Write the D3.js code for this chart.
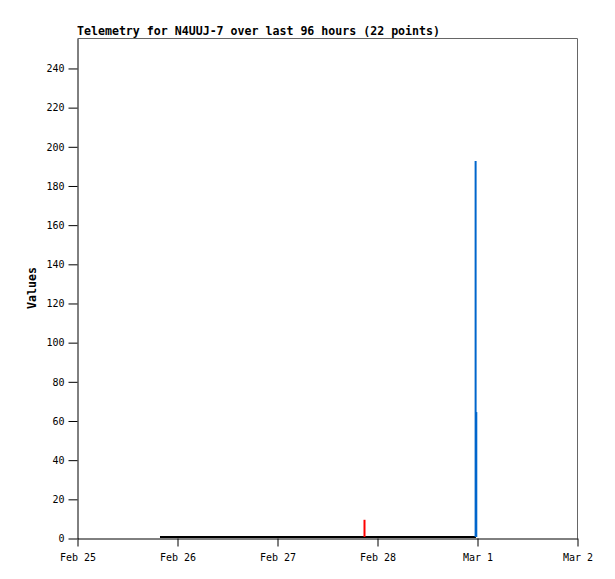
<!DOCTYPE html>
<html>
<head>
<meta charset="utf-8">
<script src="https://cdn.jsdelivr.net/npm/d3@7"></script>
<style>
  body { margin: 0; background: #fff; }
  text { font-family: "DejaVu Sans Mono", monospace; }
</style>
</head>
<body>
<script>
/* data */
const titleText = "Telemetry for N4UUJ-7 over last 96 hours (22 points)";
const yTicks = [0, 20, 40, 60, 80, 100, 120, 140, 160, 180, 200, 220, 240];
const xTicks = ["2023-02-25T00:00", "2023-02-26T00:00", "2023-02-27T00:00",
                "2023-02-28T00:00", "2023-03-01T00:00", "2023-03-02T00:00"];
const xTickLabels = ["Feb 25", "Feb 26", "Feb 27", "Feb 28", "Mar 1", "Mar 2"];

// black series (flat near zero)
const blackTimes = ["2023-02-25T19:55", "2023-02-26T01:10", "2023-02-26T06:30", "2023-02-26T11:50",
  "2023-02-26T17:10", "2023-02-26T22:30", "2023-02-27T03:50", "2023-02-27T09:10",
  "2023-02-27T14:30", "2023-02-27T19:50", "2023-02-28T01:10", "2023-02-28T06:30",
  "2023-02-28T11:50", "2023-02-28T17:10", "2023-02-28T21:00", "2023-02-28T23:10",
  "2023-02-28T23:45"];
const blackValues = [0.5, 0.5, 0.5, 0.5, 0.5, 0.5, 0.5, 0.5, 0.5, 0.5, 0.5, 0.5, 0.5, 0.5, 0.5, 0.5, 0.5];
// red series (spike)
const redTimes = ["2023-02-27T21:00"];
const redValues = [9.3];
// blue series (spikes)
const blueTimes = ["2023-02-28T23:40", "2023-02-28T23:50"];
const blueValues = [192.5, 64.3];

/* layout */
const width = 615, height = 579;
const mLeft = 77, mRight = 577, mTop = 38, mBottom = 538;

const parse = d3.timeParse("%Y-%m-%dT%H:%M");

const svg = d3.select("body").append("svg")
  .attr("width", width)
  .attr("height", height);

const x = d3.scaleTime()
  .domain([parse(xTicks[0]), parse(xTicks[xTicks.length - 1])])
  .range([mLeft, mRight]);
const y = d3.scaleLinear()
  .domain([0, 255.3])
  .range([mBottom, mTop]);

// frame (top & right, gray)
svg.append("path")
  .attr("d", `M${mLeft + 0.5},${mTop + 0.5}H${mRight + 0.5}V${mBottom + 0.5}`)
  .attr("fill", "none")
  .attr("stroke", "#666")
  .attr("stroke-width", 1);

/* axes */
const axisY = d3.axisLeft(y)
  .tickValues(yTicks)
  .tickSize(9)
  .tickPadding(4)
  .tickSizeOuter(0);
svg.append("g")
  .attr("transform", `translate(${mLeft + 0.5},0.5)`)
  .call(axisY);

const axisX = d3.axisBottom(x)
  .tickValues(xTicks.map(parse))
  .tickFormat((d, i) => xTickLabels[i])
  .tickSize(8)
  .tickPadding(7)
  .tickSizeOuter(0);
svg.append("g")
  .attr("transform", `translate(0.5,${mBottom + 0.5})`)
  .call(axisX);

svg.selectAll(".tick text")
  .attr("font-family", "DejaVu Sans Mono, monospace")
  .attr("font-size", "10px")
  .attr("fill", "#000");
svg.selectAll(".domain, .tick line").attr("stroke", "#000");

// black line
const blackData = blackTimes.map((t, i) => [parse(t), blackValues[i]]);
svg.append("path")
  .datum(blackData)
  .attr("fill", "none")
  .attr("stroke", "#000")
  .attr("stroke-width", 2)
  .attr("d", d3.line().x(d => x(d[0])).y(d => y(d[1])));

// impulses
function impulses(times, values, color) {
  svg.append("g").selectAll("line")
    .data(times.map((t, i) => [parse(t), values[i]]))
    .join("line")
    .attr("x1", d => x(d[0]))
    .attr("x2", d => x(d[0]))
    .attr("y1", y(0) - 1)
    .attr("y2", d => y(d[1]))
    .attr("stroke", color)
    .attr("stroke-width", 2);
}
impulses(redTimes, redValues, "#ff0000");
impulses(blueTimes, blueValues, "#0066cc");

/* titles */
svg.append("text")
  .attr("x", mLeft)
  .attr("y", 35)
  .attr("font-size", "11.6px")
  .attr("font-weight", "bold")
  .attr("textLength", 363)
  .text(titleText);

svg.append("text")
  .attr("transform", `translate(36,${(mTop + mBottom) / 2}) rotate(-90)`)
  .attr("text-anchor", "middle")
  .attr("font-size", "11.6px")
  .attr("font-weight", "bold")
  .text("Values");
</script>
</body>
</html>
